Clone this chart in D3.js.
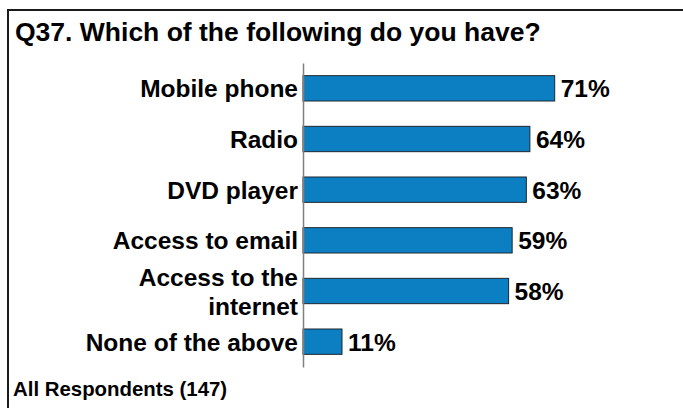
<!DOCTYPE html>
<html>
<head>
<meta charset="utf-8">
<script src="https://cdn.jsdelivr.net/npm/d3@7/dist/d3.min.js"></script>
<style>
  html, body { margin: 0; padding: 0; background: #fff; }
  svg { display: block; font-family: "Liberation Sans", Arial, sans-serif; font-weight: bold; }
</style>
</head>
<body>
<svg id="chart" width="683" height="408"></svg>
<script>
// Survey answers, in display order
const categories = ["Mobile phone", "Radio", "DVD player", "Access to email", "Access to the internet", "None of the above"];
const values = [71, 64, 63, 59, 58, 11];
const title = "Q37. Which of the following do you have?";
const footnote = "All Respondents (147)";

const svg = d3.select("#chart");
const W = 683, H = 408;

// Frame around the panel (right and bottom edges fall outside the view)
svg.append("rect")
  .attr("x", 8).attr("y", 10)
  .attr("width", W + 20).attr("height", H + 20)
  .attr("fill", "none").attr("stroke", "#1a1a1a").attr("stroke-width", 2);

svg.append("text")
  .attr("x", 15).attr("y", 41)
  .attr("font-size", 26.5).attr("fill", "#000")
  .text(title);

svg.append("text")
  .attr("x", 13).attr("y", 396)
  .attr("font-size", 20.4).attr("fill", "#000")
  .text(footnote);

const axisX = 303;
const x = d3.scaleLinear().domain([0, 100]).range([axisX, axisX + 354.5]);
const y = d3.scaleBand().domain(categories).range([63, 367])
  .paddingInner(0.5).paddingOuter(0.25);

// Bars
svg.append("g").selectAll("rect")
  .data(values)
  .join("rect")
  .attr("x", x(0))
  .attr("y", (d, i) => y(categories[i]))
  .attr("width", d => x(d) - x(0))
  .attr("height", y.bandwidth())
  .attr("fill", "#0b7fc1")
  .attr("stroke", "#1d2630")
  .attr("stroke-width", 1);

// Value labels
svg.append("g").selectAll("text")
  .data(values)
  .join("text")
  .attr("x", d => x(d) + 6)
  .attr("y", (d, i) => y(categories[i]) + y.bandwidth() / 2 + 9)
  .attr("font-size", 24.5).attr("fill", "#000")
  .text(d => d + "%");

// Category axis
const axis = svg.append("g")
  .attr("transform", `translate(${axisX},0)`)
  .call(d3.axisLeft(y).tickSize(0).tickSizeOuter(0).tickPadding(5));
axis.select(".domain").attr("stroke", "#808080").attr("stroke-width", 1.5);
axis.selectAll(".tick text")
  .attr("font-size", 24.5)
  .attr("font-family", "'Liberation Sans', Arial, sans-serif")
  .attr("font-weight", "bold")
  .attr("fill", "#000")
  .attr("dy", null)
  .each(function (d) {
    // wrap long labels onto two lines
    const t = d3.select(this);
    const maxW = 225;
    if (this.getComputedTextLength() <= maxW) {
      t.attr("y", 9);
      return;
    }
    const words = d.split(" ");
    const lines = [];
    let cur = [];
    t.text(null);
    const probe = t.append("tspan");
    words.forEach(w => {
      cur.push(w);
      probe.text(cur.join(" "));
      if (probe.node().getComputedTextLength() > maxW && cur.length > 1) {
        cur.pop();
        lines.push(cur.join(" "));
        cur = [w];
      }
    });
    lines.push(cur.join(" "));
    probe.remove();
    const gap = 29;
    const first = 9 - gap / 2 * (lines.length - 1);
    lines.forEach((ln, k) => {
      t.append("tspan")
        .attr("x", -5)
        .attr("y", first + k * gap + 0.5)
        .text(ln);
    });
  });
</script>
</body>
</html>
